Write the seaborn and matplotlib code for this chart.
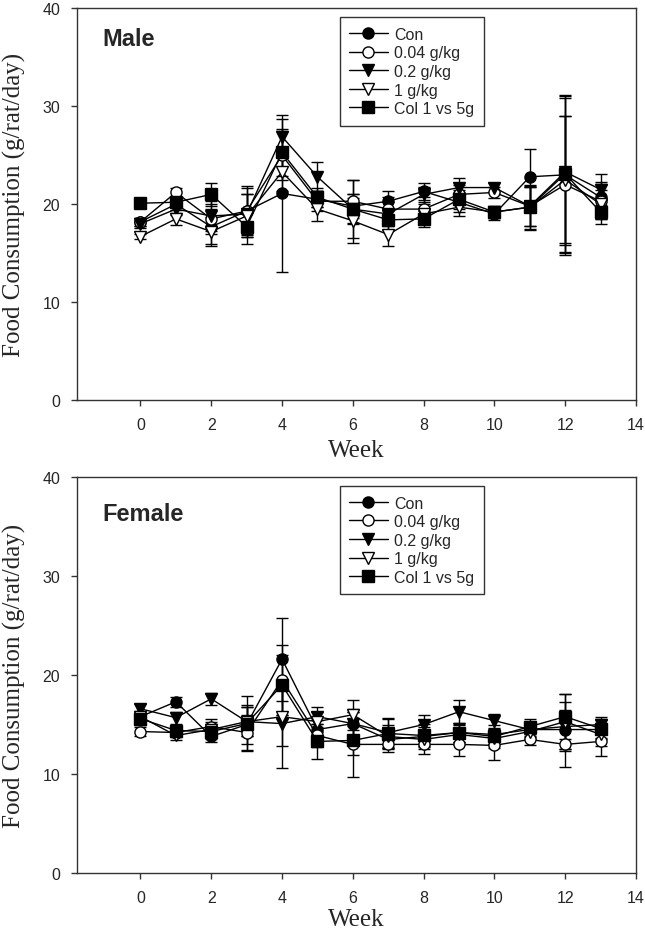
import numpy as np
import pandas as pd
import seaborn as sns
from matplotlib import pyplot as plt

# Data
weeks = np.arange(14)
groups = ["Con", "0.04 g/kg", "0.2 g/kg", "1 g/kg", "Col 1 vs 5g"]

male_con = [18.2, 20.0, 17.7, 19.3, 21.1, 20.5, 19.8, 20.3, 21.3, 20.2, 19.0, 22.8, 23.0, 20.7]
male_004 = [18.2, 21.2, 18.5, 19.3, 25.0, 20.3, 20.3, 19.5, 19.5, 21.0, 21.2, 19.8, 22.0, 20.3]
male_02 = [18.0, 19.5, 18.8, 19.0, 26.9, 22.8, 19.5, 19.0, 21.0, 21.7, 21.7, 19.8, 23.3, 21.5]
male_1 = [16.7, 18.5, 17.2, 18.8, 23.3, 19.5, 18.3, 16.9, 19.0, 19.7, 19.2, 19.7, 22.5, 20.0]
male_col = [20.1, 20.2, 21.0, 17.7, 25.3, 20.7, 19.5, 18.4, 18.5, 20.5, 19.2, 19.7, 23.1, 19.2]

male_con_sd = [0.4, 0.6, 1.8, 2.4, 8.0, 0.8, 1.2, 1.0, 0.9, 1.0, 0.6, 2.8, 8.2, 1.6]
male_004_sd = [0.4, 0.5, 1.5, 2.6, 2.5, 1.0, 2.2, 1.2, 1.2, 1.0, 0.6, 2.0, 7.0, 1.8]
male_02_sd = [0.4, 0.6, 1.5, 2.0, 1.8, 1.5, 1.5, 1.2, 0.8, 1.0, 0.5, 2.0, 7.5, 1.6]
male_1_sd = [0.3, 0.6, 1.5, 2.2, 2.0, 1.2, 2.3, 1.2, 1.0, 0.9, 0.6, 2.2, 6.5, 1.5]
male_col_sd = [0.3, 0.5, 1.2, 1.8, 2.4, 1.0, 3.0, 1.0, 0.8, 1.0, 0.5, 2.3, 8.0, 1.2]

fem_con = [15.8, 17.3, 13.8, 15.0, 21.6, 14.5, 15.1, 13.5, 13.8, 14.2, 14.0, 14.5, 14.5, 14.5]
fem_004 = [14.3, 14.2, 14.8, 14.2, 19.5, 13.9, 13.0, 13.0, 13.0, 13.0, 12.9, 13.5, 13.0, 13.3]
fem_02 = [16.6, 15.7, 17.6, 15.3, 15.1, 15.8, 15.1, 14.2, 15.0, 16.3, 15.4, 14.5, 14.8, 15.0]
fem_1 = [15.8, 13.9, 14.5, 15.3, 15.8, 15.3, 16.0, 13.8, 13.5, 14.0, 13.6, 14.3, 15.3, 14.0]
fem_col = [15.6, 14.4, 14.3, 15.1, 19.0, 13.3, 13.4, 14.1, 13.9, 14.2, 13.8, 14.8, 15.8, 14.6]

fem_con_sd = [0.5, 0.5, 0.6, 2.0, 4.2, 1.0, 1.2, 1.0, 1.0, 1.0, 1.0, 0.8, 2.0, 1.0]
fem_004_sd = [0.5, 0.5, 0.8, 1.8, 3.5, 1.2, 3.3, 0.8, 1.0, 1.2, 1.5, 0.6, 2.3, 1.5]
fem_02_sd = [0.5, 0.6, 0.6, 1.5, 4.5, 1.0, 1.5, 1.5, 1.0, 1.2, 0.7, 0.7, 2.5, 0.8]
fem_1_sd = [0.6, 0.5, 0.8, 1.5, 3.0, 1.0, 1.5, 1.2, 1.0, 1.0, 1.0, 0.8, 2.8, 1.2]
fem_col_sd = [0.6, 0.6, 0.8, 2.8, 3.0, 1.8, 1.5, 1.5, 1.2, 1.0, 0.8, 0.8, 2.3, 1.0]

male_vals = [male_con, male_004, male_02, male_1, male_col]
male_sds = [male_con_sd, male_004_sd, male_02_sd, male_1_sd, male_col_sd]
fem_vals = [fem_con, fem_004, fem_02, fem_1, fem_col]
fem_sds = [fem_con_sd, fem_004_sd, fem_02_sd, fem_1_sd, fem_col_sd]

# marker, face colour per group
markers = ["o", "o", "v", "v", "s"]
faces = ["black", "white", "black", "white", "black"]

sns.set_style("ticks")
plt.rcParams["font.family"] = ["Liberation Sans", "DejaVu Sans"]

fig = plt.figure(figsize=(6.45, 9.37), dpi=100)
ax1 = fig.add_axes([0.119, 0.572, 0.867, 0.418])
ax2 = fig.add_axes([0.119, 0.067, 0.867, 0.423])


def draw_panel(ax, vals, sds, title, ty, xpad):
    for g, v, sd, m, fc in zip(groups, vals, sds, markers, faces):
        df = pd.DataFrame({"week": weeks, "val": v})
        ax.errorbar(weeks, v, yerr=sd, fmt="none", ecolor="black",
                    elinewidth=1.0, capsize=4, capthick=1.0, zorder=1)
        sns.lineplot(data=df, x="week", y="val", ax=ax, color="black",
                     linewidth=1.0, marker=m, markersize=8,
                     markerfacecolor=fc, markeredgecolor="black",
                     markeredgewidth=1.0, label=g, zorder=3)
    ax.set_xlim(-1.8, 14)
    ax.set_ylim(0, 40)
    ax.set_xticks(range(0, 15, 2))
    ax.set_yticks(range(0, 41, 10))
    for s in ax.spines.values():
        s.set_color("#333333")
        s.set_linewidth(1.0)
    ax.tick_params(axis="both", direction="out", length=4, width=1.0,
                   color="#333333", labelsize=11.5, pad=8)
    ax.set_xlabel("Week", family="Liberation Serif", fontsize=18, labelpad=xpad)
    ax.set_ylabel("Food Consumption (g/rat/day)", family="Liberation Serif",
                  fontsize=18, labelpad=12)
    ax.text(0.045, ty, title, transform=ax.transAxes, fontsize=17,
            fontweight="bold", va="center", ha="left")
    leg = ax.legend(loc="upper left", bbox_to_anchor=(0.47, 0.977),
                    borderaxespad=0, fontsize=11.5, handlelength=2.4,
                    handletextpad=0.4, labelspacing=0.22, borderpad=0.6,
                    fancybox=False, framealpha=1, edgecolor="#333333")
    leg.get_frame().set_linewidth(1.0)
    for h in leg.legend_handles:
        h.set_markersize(8)


draw_panel(ax1, male_vals, male_sds, "Male", 0.922, 5)
draw_panel(ax2, fem_vals, fem_sds, "Female", 0.907, 2)

fig.savefig("out.png", dpi=100)
